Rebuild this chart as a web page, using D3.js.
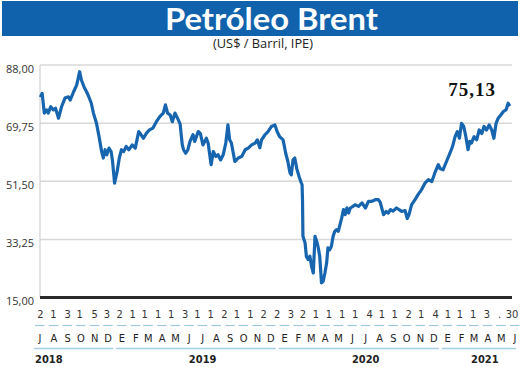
<!DOCTYPE html>
<html><head><meta charset="utf-8">
<script src="https://cdn.jsdelivr.net/npm/d3@7"></script>
<style>body{margin:0;background:#fff} svg{display:block}</style>
</head><body><svg id="c" width="520" height="367"></svg>
<script>
const title = "Petróleo Brent";
const subtitle = "(US$ / Barril, IPE)";
const lastLabel = "75,13";
const yTicks = [15, 33.25, 51.5, 69.75, 88];
const dates = [
"2018-07-02","2018-07-06","2018-07-11","2018-07-16","2018-07-20","2018-07-26","2018-08-01","2018-08-06","2018-08-13","2018-08-20","2018-08-28",
"2018-09-05","2018-09-09","2018-09-17","2018-09-24","2018-10-01","2018-10-05","2018-10-11","2018-10-17","2018-10-22","2018-10-28",
"2018-11-02","2018-11-09","2018-11-15","2018-11-21","2018-11-25","2018-11-29","2018-12-03","2018-12-08","2018-12-13","2018-12-16","2018-12-21","2018-12-27",
"2019-01-01","2019-01-06","2019-01-11","2019-01-17","2019-01-23","2019-01-31","2019-02-07","2019-02-15","2019-02-21","2019-02-26",
"2019-03-05","2019-03-12","2019-03-20","2019-03-28","2019-04-05","2019-04-13","2019-04-18","2019-04-23","2019-04-29",
"2019-05-04","2019-05-10","2019-05-16","2019-05-22","2019-05-27","2019-05-30","2019-06-04","2019-06-09","2019-06-14","2019-06-21","2019-06-25",
"2019-07-03","2019-07-08","2019-07-14","2019-07-22","2019-07-26","2019-08-02","2019-08-07","2019-08-13","2019-08-18","2019-08-24","2019-08-30",
"2019-09-05","2019-09-10","2019-09-14","2019-09-18","2019-09-26","2019-10-04","2019-10-12","2019-10-20","2019-10-27",
"2019-11-04","2019-11-12","2019-11-17","2019-11-23","2019-11-27","2019-12-05","2019-12-12","2019-12-20","2019-12-28",
"2020-01-02","2020-01-08","2020-01-16","2020-01-22","2020-01-27","2020-02-01","2020-02-04","2020-02-08","2020-02-12","2020-02-17","2020-02-22","2020-02-26","2020-02-29",
"2020-03-01","2020-03-02","2020-03-07","2020-03-10","2020-03-14","2020-03-18","2020-03-22","2020-03-26","2020-03-30",
"2020-04-03","2020-04-06","2020-04-10","2020-04-14","2020-04-18","2020-04-22","2020-04-26","2020-04-29",
"2020-05-03","2020-05-07","2020-05-11","2020-05-15","2020-05-19","2020-05-23","2020-05-27","2020-05-31",
"2020-06-04","2020-06-08","2020-06-12","2020-06-16","2020-06-20","2020-06-26","2020-07-01","2020-07-09","2020-07-17","2020-07-25",
"2020-08-01","2020-08-09","2020-08-17","2020-08-24","2020-08-28","2020-09-05","2020-09-11","2020-09-16","2020-09-21","2020-09-27",
"2020-10-05","2020-10-11","2020-10-17","2020-10-25","2020-10-30","2020-11-03","2020-11-09","2020-11-17","2020-11-24",
"2020-12-02","2020-12-10","2020-12-18","2020-12-26","2021-01-02","2021-01-10","2021-01-14","2021-01-21","2021-01-29",
"2021-02-06","2021-02-12","2021-02-18","2021-02-23","2021-02-28","2021-03-05","2021-03-10","2021-03-15","2021-03-20","2021-03-24","2021-03-28",
"2021-04-03","2021-04-09","2021-04-15","2021-04-21","2021-04-26","2021-05-02","2021-05-08","2021-05-14","2021-05-19","2021-05-24","2021-05-29",
"2021-06-04","2021-06-10","2021-06-16","2021-06-21","2021-06-25"];
const prices = [
77.9,79.1,72.9,73.9,72.9,74.9,73.9,74.4,71.3,74.9,77.6,
78.0,77.0,79.6,81.7,85.9,83.3,81.2,79.6,78.1,76.0,
72.9,69.7,65.5,60.8,58.8,61.4,59.8,61.9,60.8,58.2,50.9,54.6,
58.8,61.4,60.8,62.4,61.4,62.9,61.9,67.1,66.0,65.0,
66.6,67.6,68.2,70.2,71.8,72.9,75.5,72.9,72.3,
70.2,72.9,71.3,69.5,63.0,61.4,60.3,61.4,64.0,66.1,64.0,
67.1,66.5,62.9,65.0,63.5,56.7,60.8,59.3,59.8,58.2,59.8,
63.5,69.2,64.5,63.5,57.7,58.8,59.3,61.4,61.9,
62.9,63.5,64.5,62.0,64.5,66.1,67.1,68.7,69.2,
67.1,65.5,64.5,60.3,57.7,54.1,53.5,58.2,58.8,55.3,53.0,51.4,50.4,
45.7,34.2,32.1,27.9,26.9,28.0,24.8,22.7,34.2,
32.6,31.0,27.9,19.6,20.1,22.7,25.9,30.6,
30.0,31.1,34.2,35.8,36.3,35.8,37.9,40.0,
42.6,41.0,43.1,41.5,43.1,43.6,44.1,43.6,44.7,43.1,
45.2,45.2,45.7,45.7,45.0,41.0,42.0,41.5,42.6,42.1,
43.1,42.6,42.0,42.3,39.8,41.0,44.1,45.7,47.3,
48.8,50.9,52.0,51.4,54.1,56.7,55.5,55.1,57.7,
60.3,62.4,65.5,67.1,65.0,69.7,68.7,65.5,61.4,64.0,63.5,
65.5,64.5,67.6,66.5,68.7,67.6,69.2,67.6,65.0,69.7,71.3,
72.3,73.4,73.9,76.0,75.1];
const monthLetters = ["J","A","S","O","N","D","E","F","M","A","M","J","J","A","S","O","N","D","E","F","M","A","M","J","J","A","S","O","N","D","E","F","M","A","M","J"];
const dayLabels = ["2","1","3","1","5","3","2","1","1","1","1","3","1","1","2","1","1","2","2","3","2","1","1","1","1","4","1","1","2","1","4","1","1","1","3","."];
const endLabel = "30";
const years = ["2018","2019","2020","2021"];
const monthsPerYear = [6,12,12,6];

const svg = d3.select("#c");
const parse = d3.timeParse("%Y-%m-%d");
const data = dates.map((d,i)=>({date:parse(d), v:prices[i]}));
const start = new Date(2018,6,1), end = new Date(2021,5,30);
const x = d3.scaleTime().domain([start,end]).range([40,512]);
const y = d3.scaleLinear().domain([15,88]).range([297.5,65]);
const monthStarts = d3.timeMonths(start, new Date(2021,5,2));
const xl = d3.scaleTime().domain([start,new Date(2021,5,1)]).range([40,515]);
const condensed = '"Liberation Sans Narrow","DejaVu Sans Condensed","Roboto Condensed",sans-serif';

// title bar
svg.append("rect").attr("x",2).attr("y",1).attr("width",516).attr("height",35).attr("fill","#1162ac");
svg.append("text").attr("x",271.5).attr("y",30).attr("text-anchor","middle")
  .attr("font-family","Lato,'Open Sans',sans-serif").attr("font-weight","bold").attr("font-size",30)
  .attr("fill","#fff").attr("textLength",213).attr("lengthAdjust","spacingAndGlyphs").text(title);
svg.append("text").attr("x",263).attr("y",48).attr("text-anchor","middle")
  .attr("font-family","'Open Sans',sans-serif").attr("font-size",12).attr("fill","#222")
  .attr("textLength",100).attr("lengthAdjust","spacingAndGlyphs").text(subtitle);

// grid
svg.append("g").selectAll("line").data(yTicks.filter(t=>t>15)).join("line")
  .attr("x1",40).attr("x2",512).attr("y1",d=>y(d)).attr("y2",d=>y(d))
  .attr("stroke","#d8d8d8").attr("stroke-width",1.5);
svg.append("line").attr("x1",40).attr("x2",40).attr("y1",y(88)).attr("y2",y(15))
  .attr("stroke","#d0d0d0").attr("stroke-width",1.2);
svg.append("g").selectAll("text").data(yTicks).join("text")
  .attr("x",34).attr("y",d=>y(d)+7.5).attr("text-anchor","end")
  .attr("font-family","'Open Sans',sans-serif").attr("font-size",11).attr("fill","#333")
  .text(d=>d3.format(".2f")(d).replace(".",","));

// line
svg.append("path").datum(data).attr("fill","none").attr("stroke","#1765ae").attr("stroke-width",3.2)
  .attr("stroke-linejoin","round")
  .attr("d",d3.line().x(d=>x(d.date)).y(d=>y(d.v)));

// bottom axis
svg.append("line").attr("x1",40).attr("x2",512).attr("y1",297.5).attr("y2",297.5)
  .attr("stroke","#2a2a2a").attr("stroke-width",3);

// last value
svg.append("text").attr("x",472).attr("y",96).attr("text-anchor","middle")
  .attr("font-family","'Liberation Serif','DejaVu Serif',serif").attr("font-weight","bold").attr("font-size",19)
  .attr("fill","#111").attr("letter-spacing",1).text(lastLabel);

// day numbers at first trading day of each month
const firstDates = monthStarts.map((m,i)=>new Date(m.getFullYear(), m.getMonth(), dayLabels[i]==="." ? 1 : +dayLabels[i]));
const gx = svg.append("g").attr("font-family",condensed).attr("fill","#333");
gx.selectAll("text.d").data(dayLabels).join("text").attr("class","d")
  .attr("x",(d,i)=>x(firstDates[i])).attr("y",318).attr("text-anchor","middle").attr("font-size",11)
  .text(d=>d);
gx.append("text").attr("x",x(end)).attr("y",318).attr("text-anchor","middle").attr("font-size",11).text(endLabel);

// dashes
svg.append("g").selectAll("line").data(monthStarts).join("line")
  .attr("x1",d=>xl(d)-5).attr("x2",d=>xl(d)+4.5).attr("y1",325.5).attr("y2",325.5)
  .attr("stroke","#9fc9dd").attr("stroke-width",1.2);

// month letters
gx.selectAll("text.m").data(monthLetters).join("text").attr("class","m")
  .attr("x",(d,i)=>xl(monthStarts[i])).attr("y",342).attr("text-anchor","middle").attr("font-size",11)
  .attr("fill","#222").text(d=>d);

// year lines and labels
let idx = 0;
years.forEach((yr,k)=>{
  const a = xl(monthStarts[idx]) - 6;
  const b = xl(monthStarts[idx+monthsPerYear[k]-1]) + 5;
  idx += monthsPerYear[k];
  svg.append("line").attr("x1",Math.max(a,33)).attr("x2",Math.min(b,516)).attr("y1",348.5).attr("y2",348.5)
    .attr("stroke","#a6cfe2").attr("stroke-width",1.3);
  const lx = k===0 ? 35 : (monthsPerYear[k]===12 ? xl(new Date(+yr,6,1)) : (a+b)/2 + 4);
  svg.append("text").attr("x",lx).attr("y",363).attr("text-anchor",k===0?"start":"middle")
    .attr("font-family",condensed).attr("font-weight","bold").attr("font-size",11).attr("fill","#222").text(yr);
});
</script></body></html>
